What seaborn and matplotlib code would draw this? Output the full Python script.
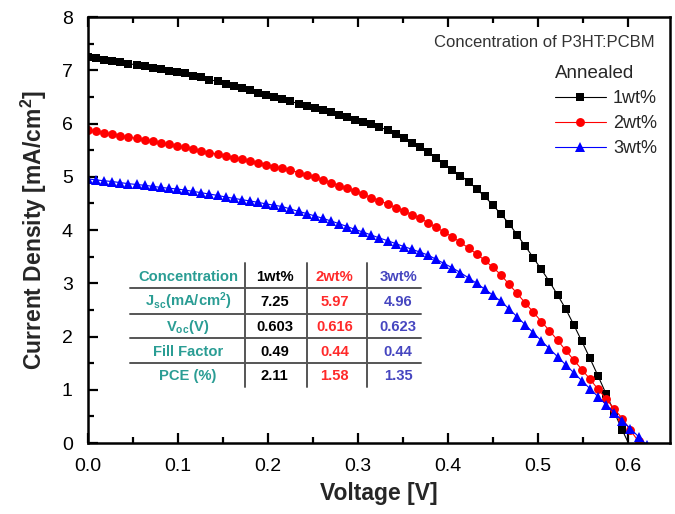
import matplotlib
matplotlib.use("Agg")
import matplotlib.pyplot as plt
import seaborn as sns
from matplotlib.ticker import MultipleLocator

# ---------------- data ----------------
voltage = [0.000, 0.009, 0.018, 0.027, 0.036, 0.045, 0.054, 0.063, 0.072, 0.081,
           0.090, 0.099, 0.108, 0.117, 0.126, 0.135, 0.144, 0.153, 0.162, 0.171,
           0.180, 0.189, 0.198, 0.207, 0.216, 0.225, 0.234, 0.243, 0.252, 0.261,
           0.270, 0.279, 0.288, 0.297, 0.306, 0.315, 0.324, 0.333, 0.342, 0.351,
           0.360, 0.369, 0.378, 0.387, 0.396, 0.405, 0.414, 0.423, 0.432, 0.441,
           0.450, 0.459, 0.468, 0.477, 0.486, 0.495, 0.504, 0.513, 0.522, 0.531,
           0.540, 0.549, 0.558, 0.567, 0.576, 0.585, 0.594, 0.603, 0.612, 0.621]

j_1wt = [7.25, 7.225, 7.20, 7.175, 7.15, 7.125, 7.10, 7.075, 7.05, 7.02,
         6.99, 6.965, 6.94, 6.90, 6.865, 6.825, 6.79, 6.75, 6.71, 6.67,
         6.625, 6.58, 6.54, 6.495, 6.455, 6.415, 6.375, 6.33, 6.29, 6.25,
         6.21, 6.165, 6.12, 6.075, 6.03, 5.985, 5.94, 5.87, 5.80, 5.72,
         5.64, 5.55, 5.46, 5.35, 5.24, 5.13, 5.02, 4.91, 4.77, 4.63,
         4.47, 4.30, 4.12, 3.91, 3.70, 3.48, 3.26, 3.03, 2.78, 2.52,
         2.22, 1.91, 1.59, 1.26, 0.92, 0.58, 0.24, -0.08]

j_2wt = [5.88, 5.853, 5.827, 5.80, 5.773, 5.747, 5.72, 5.692, 5.663, 5.635,
         5.607, 5.578, 5.55, 5.518, 5.487, 5.455, 5.423, 5.392, 5.36, 5.33,
         5.30, 5.26, 5.23, 5.19, 5.16, 5.125, 5.08, 5.035, 4.99, 4.94,
         4.89, 4.835, 4.78, 4.73, 4.67, 4.61, 4.55, 4.49, 4.42, 4.36,
         4.29, 4.22, 4.14, 4.05, 3.96, 3.87, 3.77, 3.66, 3.55, 3.43,
         3.30, 3.16, 2.98, 2.81, 2.63, 2.46, 2.28, 2.11, 1.93, 1.74,
         1.56, 1.38, 1.20, 1.01, 0.83, 0.64, 0.46, 0.24, 0.03]

j_3wt = [4.96, 4.94, 4.925, 4.91, 4.89, 4.87, 4.855, 4.84, 4.82, 4.80,
         4.785, 4.77, 4.75, 4.725, 4.70, 4.675, 4.65, 4.62, 4.595, 4.57,
         4.545, 4.52, 4.49, 4.465, 4.44, 4.395, 4.35, 4.31, 4.265, 4.22,
         4.17, 4.12, 4.065, 4.01, 3.96, 3.905, 3.85, 3.80, 3.745, 3.69,
         3.64, 3.585, 3.53, 3.45, 3.37, 3.29, 3.20, 3.10, 3.00, 2.89,
         2.78, 2.66, 2.52, 2.37, 2.22, 2.07, 1.92, 1.77, 1.62, 1.47,
         1.32, 1.17, 1.02, 0.87, 0.72, 0.57, 0.42, 0.27, 0.12, -0.03]

series_labels = ["1wt%", "2wt%", "3wt%"]

table_rows = ["Concentration", "J$_{\\mathbf{sc}}$(mA/cm$^{\\mathbf{2}}$)",
              "V$_{\\mathbf{oc}}$(V)", "Fill Factor", "PCE (%)"]
table_cols = {
    "1wt%": ["1wt%", "7.25", "0.603", "0.49", "2.11"],
    "2wt%": ["2wt%", "5.97", "0.616", "0.44", "1.58"],
    "3wt%": ["3wt%", "4.96", "0.623", "0.44", "1.35"],
}

# ---------------- style ----------------
sns.set_style("white")
plt.rcParams["font.family"] = ["Liberation Sans", "DejaVu Sans"]
plt.rcParams["mathtext.fontset"] = "custom"
plt.rcParams["mathtext.rm"] = "Liberation Sans"
plt.rcParams["mathtext.bf"] = "Liberation Sans:bold"
plt.rcParams["mathtext.it"] = "Liberation Sans:italic"

fig = plt.figure(figsize=(6.75, 5.14), dpi=100)
ax = fig.add_axes([0.1304, 0.1381, 0.8622, 0.8288])

styles = [
    dict(color="black", marker="s", markersize=5.4),
    dict(color="#ff0000", marker="o", markersize=6.4),
    dict(color="#0000ff", marker="^", markersize=7.4),
]
for lab, ys, st in zip(series_labels, [j_1wt, j_2wt, j_3wt], styles):
    sns.lineplot(x=voltage[:len(ys)], y=ys, ax=ax, color=st["color"],
                 marker=st["marker"], markersize=st["markersize"],
                 markeredgewidth=0, linewidth=0.8, label=lab)

ax.set_xlim(0, 0.647)
ax.set_ylim(0, 8)
ax.xaxis.set_major_locator(MultipleLocator(0.1))
ax.xaxis.set_minor_locator(MultipleLocator(0.05))
ax.yaxis.set_major_locator(MultipleLocator(1))
ax.yaxis.set_minor_locator(MultipleLocator(0.5))
ax.xaxis.set_major_formatter(plt.FuncFormatter(lambda v, p: f"{v:.1f}"))

for sp in ax.spines.values():
    sp.set_linewidth(1.8)
    sp.set_color("black")

ax.tick_params(axis="both", which="both", direction="in", colors="black",
               labelsize=14, width=1.6)
ax.tick_params(axis="x", which="both", top=True, bottom=True)
ax.tick_params(axis="y", which="both", left=True, right=False)
ax.tick_params(which="major", length=7)
ax.tick_params(which="minor", length=4)
ax.tick_params(axis="x", which="major", pad=11)
ax.tick_params(axis="y", which="major", pad=11)

ax.set_xlabel("Voltage [V]", fontsize=16.5, fontweight="bold", labelpad=5)
ax.set_ylabel("Current Density [mA/cm$^\\mathbf{2}$]", fontsize=16.5,
              fontweight="bold", labelpad=9)

ax.text(0.974, 0.939, "Concentration of P3HT:PCBM", transform=ax.transAxes,
        ha="right", va="center", fontsize=12, color="#333333")

leg = ax.legend(title="Annealed", loc="upper right", bbox_to_anchor=(0.99, 0.905),
                frameon=False, fontsize=13, title_fontsize=13.5, handlelength=2.8,
                handletextpad=0.4, labelspacing=0.45, borderaxespad=0,
                alignment="left")

# ---------------- inset table ----------------
teal = "#2a9d94"
col_colors = {"1wt%": "black", "2wt%": "#ff2a2a", "3wt%": "#4646c0"}
row_y = [0.390, 0.332, 0.273, 0.214, 0.158]
col_x = [0.172, 0.321, 0.424, 0.533]
hlines_y = [0.363, 0.304, 0.246, 0.187]
vlines_x = [0.270, 0.376, 0.479]
for yv in hlines_y:
    ax.plot([0.072, 0.572], [yv, yv], transform=ax.transAxes, color="#555555",
            linewidth=1.4)
for xv in vlines_x:
    ax.plot([xv, xv], [0.131, 0.4225], transform=ax.transAxes, color="#555555",
            linewidth=1.4)
for yv, name in zip(row_y, table_rows):
    ax.text(col_x[0], yv, name, transform=ax.transAxes, ha="center", va="center",
            fontsize=10.6, fontweight="bold", color=teal)
for xv, key in zip(col_x[1:], series_labels):
    for yv, val in zip(row_y, table_cols[key]):
        ax.text(xv, yv, val, transform=ax.transAxes, ha="center", va="center",
                fontsize=10.6, fontweight="bold", color=col_colors[key])

fig.savefig("out.png", dpi=100)
